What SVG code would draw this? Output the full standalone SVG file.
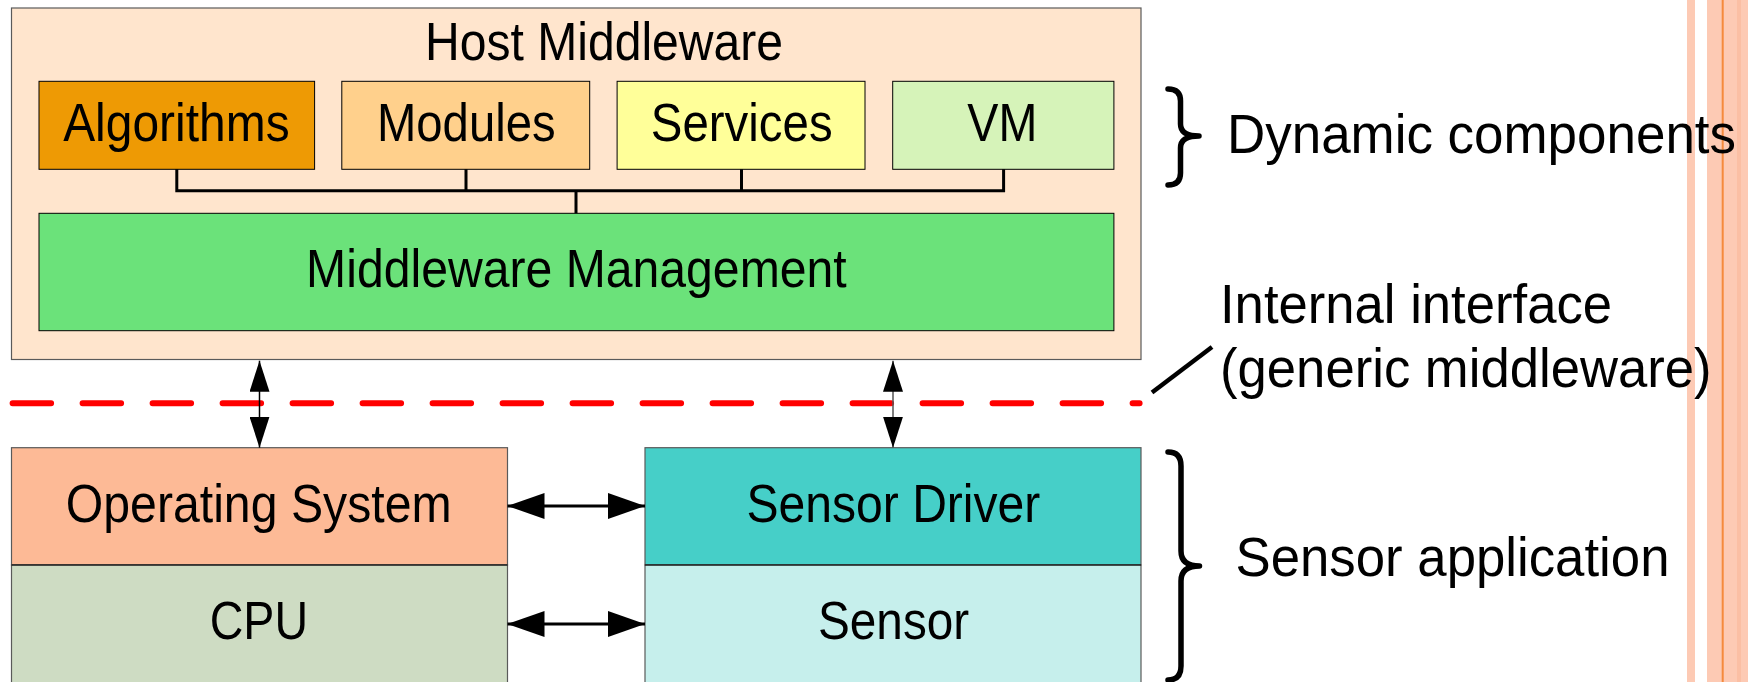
<svg xmlns="http://www.w3.org/2000/svg" width="1748" height="682" viewBox="0 0 1748 682">
  <style>
    .lbl { font-family: "Liberation Sans", Arial, sans-serif; font-size: 53px; fill: #000; }
    .side { font-family: "Liberation Sans", Arial, sans-serif; font-size: 55px; fill: #000; }
    .box { stroke: #000; stroke-width: 1; }
    .frame { stroke: #5a5a5a; stroke-width: 1.2; }
    .wire { stroke: #000; stroke-width: 3; fill: none; }
    .brace { stroke: #000; stroke-width: 5.5; fill: none; stroke-linecap: round; stroke-linejoin: round; }
  </style>
  <defs>
    <marker id="headV" viewBox="0 0 31 20" refX="31" refY="10" markerWidth="31" markerHeight="20" markerUnits="userSpaceOnUse" orient="auto-start-reverse">
      <path d="M0,0 L31,10 L0,20 Z" fill="#000"/>
    </marker>
    <marker id="headH" viewBox="0 0 37 26" refX="37" refY="13" markerWidth="37" markerHeight="26" markerUnits="userSpaceOnUse" orient="auto-start-reverse">
      <path d="M0,0 L37,13 L0,26 Z" fill="#000"/>
    </marker>
  </defs>

  <rect width="1748" height="682" fill="#fff"/>

  <!-- page edge stripes -->
  <g id="edge-stripes">
    <rect x="1687" y="0" width="8" height="682" fill="#fdcab4"/>
    <rect x="1707" y="0" width="41" height="682" fill="#fdcab4"/>
    <rect x="1737" y="0" width="4" height="682" fill="#fbbfa4"/>
    <rect x="1721.7" y="0" width="2" height="682" fill="#f58a3d"/>
  </g>

  <!-- host middleware container -->
  <g id="host-middleware">
    <rect class="frame" x="11.5" y="8" width="1129.5" height="351.5" fill="#ffe5cd"/>
    <text class="lbl" x="604" y="60" text-anchor="middle" textLength="358" lengthAdjust="spacingAndGlyphs">Host Middleware</text>
  </g>

  <g id="algorithms">
    <rect class="box" x="39" y="81.3" width="275.6" height="88" fill="#ee9a04"/>
    <text class="lbl" x="176.4" y="141.3" text-anchor="middle" textLength="226.5" lengthAdjust="spacingAndGlyphs">Algorithms</text>
  </g>
  <g id="modules">
    <rect class="box" x="341.8" y="81.3" width="247.9" height="88" fill="#ffd08c"/>
    <text class="lbl" x="466.3" y="141.3" text-anchor="middle" textLength="178.7" lengthAdjust="spacingAndGlyphs">Modules</text>
  </g>
  <g id="services">
    <rect class="box" x="617.1" y="81.3" width="247.9" height="88" fill="#ffff99"/>
    <text class="lbl" x="741.7" y="141.3" text-anchor="middle" textLength="181.8" lengthAdjust="spacingAndGlyphs">Services</text>
  </g>
  <g id="vm">
    <rect class="box" x="892.7" y="81.3" width="221.2" height="88" fill="#d6f3b9"/>
    <text class="lbl" x="1002.3" y="141.3" text-anchor="middle" textLength="70" lengthAdjust="spacingAndGlyphs">VM</text>
  </g>
  <g id="middleware-management">
    <rect class="box" x="39" y="213.3" width="1074.9" height="117.4" fill="#6be27a"/>
    <text class="lbl" x="576.4" y="287.3" text-anchor="middle" textLength="540.6" lengthAdjust="spacingAndGlyphs">Middleware Management</text>
  </g>

  <!-- sensor node stack -->
  <g id="operating-system">
    <rect class="frame" x="11.5" y="447.7" width="496" height="117.3" fill="#fdba96"/>
    <text class="lbl" x="258.7" y="522.3" text-anchor="middle" textLength="385.8" lengthAdjust="spacingAndGlyphs">Operating System</text>
  </g>
  <g id="cpu">
    <rect class="frame" x="11.5" y="565" width="496" height="130" fill="#cedcc3"/>
    <line x1="11.5" y1="565" x2="507.5" y2="565" stroke="#000" stroke-width="1.2"/>
    <text class="lbl" x="258.9" y="639" text-anchor="middle" textLength="98.3" lengthAdjust="spacingAndGlyphs">CPU</text>
  </g>
  <g id="sensor-driver">
    <rect class="frame" x="645" y="447.7" width="496" height="117.3" fill="#46cfc8"/>
    <text class="lbl" x="893.4" y="521.7" text-anchor="middle" textLength="293.9" lengthAdjust="spacingAndGlyphs">Sensor Driver</text>
  </g>
  <g id="sensor">
    <rect class="frame" x="645" y="565" width="496" height="130" fill="#c6efec"/>
    <line x1="645" y1="565" x2="1141" y2="565" stroke="#000" stroke-width="1.2"/>
    <text class="lbl" x="893.6" y="639" text-anchor="middle" textLength="151.2" lengthAdjust="spacingAndGlyphs">Sensor</text>
  </g>

  <!-- side annotations -->
  <g id="dynamic-components">
    <path class="brace" d="M1168 89 Q1180.5 89 1180.5 101 L1180.5 124 Q1180.5 136 1199 136 Q1180.5 136 1180.5 148 L1180.5 173 Q1180.5 185 1168 185"/>
    <text class="side" x="1227" y="153.3" textLength="509" lengthAdjust="spacingAndGlyphs">Dynamic components</text>
  </g>
  <g id="internal-interface">
    <line x1="1152" y1="392.5" x2="1212" y2="347" stroke="#000" stroke-width="4.5"/>
    <text class="side" x="1220" y="322.7" textLength="392" lengthAdjust="spacingAndGlyphs">Internal interface</text>
    <text class="side" x="1220" y="386.5" textLength="491.6" lengthAdjust="spacingAndGlyphs">(generic middleware)</text>
  </g>
  <g id="sensor-application">
    <path class="brace" d="M1168 452 Q1181 452 1181 466 L1181 551 Q1181 566 1199.5 566 Q1181 566 1181 581 L1181 666 Q1181 680 1168 680"/>
    <text class="side" x="1235.5" y="576" textLength="434" lengthAdjust="spacingAndGlyphs">Sensor application</text>
  </g>

  <!-- connectors -->
  <g id="connectors">
    <!-- bus from dynamic components to middleware management -->
    <path class="wire" d="M176.8 169.3 V190.7 H1003.6 V169.3 M466 169.3 V190.7 M741.5 169.3 V190.7 M576 190.7 V213.3"/>
    <!-- internal interface boundary -->
    <line x1="12.6" y1="403.3" x2="1139.6" y2="403.3" stroke="#ff0000" stroke-width="6" stroke-linecap="round" stroke-dasharray="38.5 31.5"/>
    <!-- middleware to sensor node -->
    <line x1="259.5" y1="360.7" x2="259.5" y2="447.7" stroke="#000" stroke-width="1.5" marker-start="url(#headV)" marker-end="url(#headV)"/>
    <line x1="893" y1="360.7" x2="893" y2="447.7" stroke="#555" stroke-width="1.5" marker-start="url(#headV)" marker-end="url(#headV)"/>
    <!-- host to sensor side links -->
    <line x1="507.5" y1="506" x2="645" y2="506" stroke="#000" stroke-width="3" marker-start="url(#headH)" marker-end="url(#headH)"/>
    <line x1="507.5" y1="624" x2="645" y2="624" stroke="#000" stroke-width="3" marker-start="url(#headH)" marker-end="url(#headH)"/>
  </g>
</svg>
